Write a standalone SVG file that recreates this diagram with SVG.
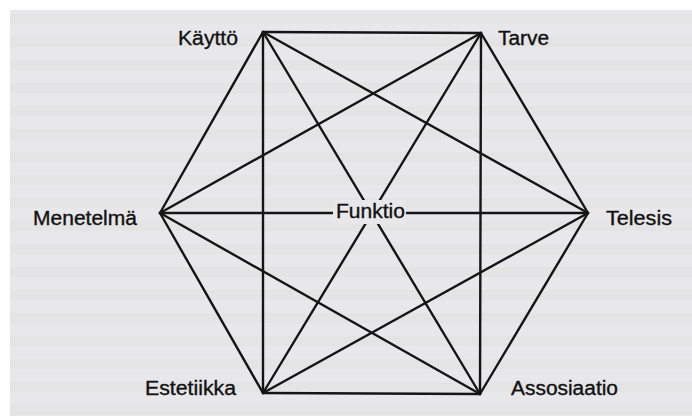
<svg xmlns="http://www.w3.org/2000/svg" width="692" height="416" viewBox="0 0 692 416">
<style>
.lbl{font-family:"Liberation Sans",Arial,Helvetica,sans-serif;font-size:20px;fill:#111;stroke:#111;stroke-width:0.35}
.edge{stroke:#151515;stroke-width:2.4;stroke-linecap:round;fill:none}
.band{fill:#8a8a90;opacity:0.045}
</style>
<rect x="0" y="0" width="692" height="416" fill="#ffffff"/>
<rect x="10" y="10" width="682" height="406" fill="#e8e8ea"/>
<g id="bleed">
<rect class="band" x="10" y="14" width="682" height="10"/>
<rect class="band" x="10" y="37" width="682" height="10"/>
<rect class="band" x="10" y="60" width="682" height="10"/>
<rect class="band" x="10" y="83" width="682" height="10"/>
<rect class="band" x="10" y="106" width="682" height="10"/>
<rect class="band" x="10" y="129" width="682" height="10"/>
<rect class="band" x="10" y="152" width="682" height="10"/>
<rect class="band" x="10" y="175" width="682" height="10"/>
<rect class="band" x="10" y="198" width="682" height="10"/>
<rect class="band" x="10" y="221" width="682" height="10"/>
<rect class="band" x="10" y="244" width="682" height="10"/>
<rect class="band" x="10" y="267" width="682" height="10"/>
<rect class="band" x="10" y="290" width="682" height="10"/>
<rect class="band" x="10" y="313" width="682" height="10"/>
<rect class="band" x="10" y="336" width="682" height="10"/>
<rect class="band" x="10" y="359" width="682" height="10"/>
<rect class="band" x="10" y="382" width="682" height="10"/>
<rect class="band" x="10" y="405" width="682" height="10"/>
</g>
<g id="connectors">
<line class="edge" x1="263" y1="32" x2="481" y2="33"/>
<line class="edge" x1="263" y1="32" x2="160" y2="213"/>
<line class="edge" x1="263" y1="32" x2="588" y2="213"/>
<line class="edge" x1="263" y1="32" x2="263" y2="393"/>
<line class="edge" x1="263" y1="32" x2="480" y2="394"/>
<line class="edge" x1="481" y1="33" x2="160" y2="213"/>
<line class="edge" x1="481" y1="33" x2="588" y2="213"/>
<line class="edge" x1="481" y1="33" x2="263" y2="393"/>
<line class="edge" x1="481" y1="33" x2="480" y2="394"/>
<line class="edge" x1="160" y1="213" x2="588" y2="213"/>
<line class="edge" x1="160" y1="213" x2="263" y2="393"/>
<line class="edge" x1="160" y1="213" x2="480" y2="394"/>
<line class="edge" x1="588" y1="213" x2="263" y2="393"/>
<line class="edge" x1="588" y1="213" x2="480" y2="394"/>
<line class="edge" x1="263" y1="393" x2="480" y2="394"/>
</g>
<g id="node-kaytto"><text class="lbl" x="178" y="45" textLength="60" lengthAdjust="spacingAndGlyphs">Käyttö</text></g>
<g id="node-tarve"><text class="lbl" x="498" y="45" textLength="51" lengthAdjust="spacingAndGlyphs">Tarve</text></g>
<g id="node-menetelma"><text class="lbl" x="33" y="225" textLength="104" lengthAdjust="spacingAndGlyphs">Menetelmä</text></g>
<g id="node-telesis"><text class="lbl" x="606" y="225" textLength="66" lengthAdjust="spacingAndGlyphs">Telesis</text></g>
<g id="node-estetiikka"><text class="lbl" x="145" y="395" textLength="91" lengthAdjust="spacingAndGlyphs">Estetiikka</text></g>
<g id="node-assosiaatio"><text class="lbl" x="511" y="395" textLength="107" lengthAdjust="spacingAndGlyphs">Assosiaatio</text></g>
<g id="node-funktio">
<rect x="333" y="200" width="73" height="24" fill="#e8e8ea"/>
<text class="lbl" x="336" y="218" textLength="69" lengthAdjust="spacingAndGlyphs">Funktio</text>
</g>
</svg>
